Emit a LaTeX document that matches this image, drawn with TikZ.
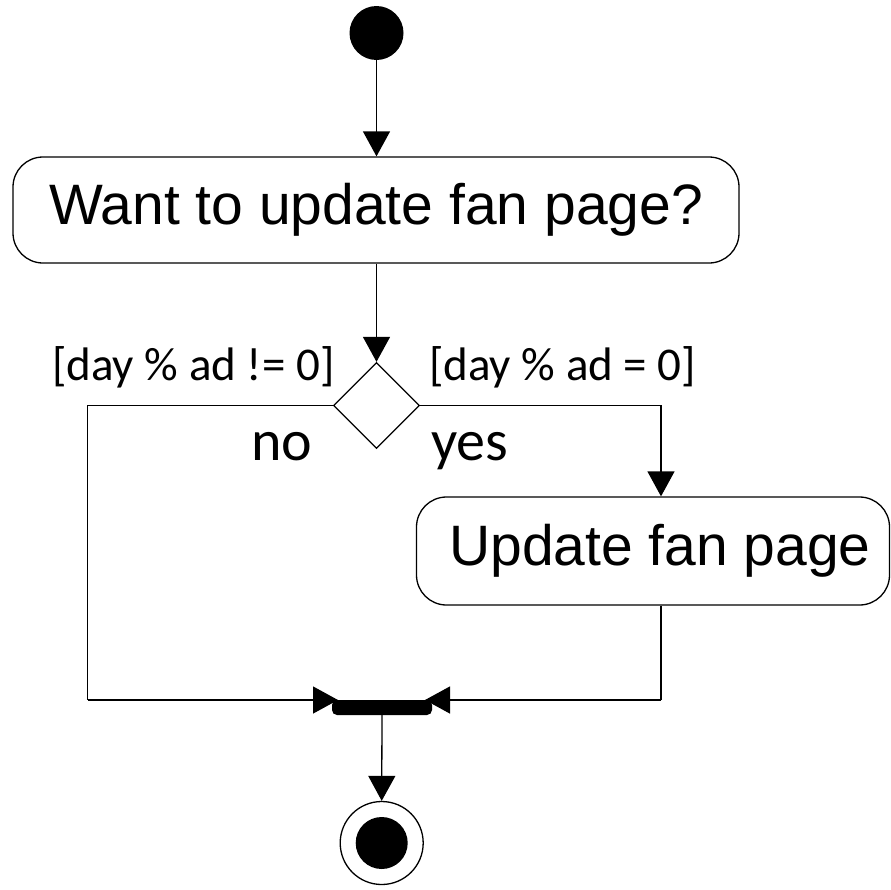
\documentclass[tikz,border=0pt]{standalone}
\usepackage{fontspec}
\setmainfont{Liberation Sans}
\newfontfamily\calibri{Carlito}
\usetikzlibrary{shapes.geometric,arrows.meta,calc}

\tikzset{
  flow/.style={line width=1.3pt, draw=black},
  arr/.style={flow, -{Triangle[width=27pt,length=25pt]}},
  action/.style={draw, line width=1.3pt, rounded corners=30pt, inner sep=0pt,
    font=\fontsize{57}{60}\selectfont},
  decision/.style={diamond, draw, line width=1.3pt, inner sep=0pt, aspect=1,
    minimum width=86pt, minimum height=86pt},
  guard/.style={inner sep=0pt, font=\calibri\fontsize{47}{50}\selectfont},
  branch/.style={inner sep=0pt, font=\calibri\fontsize{58}{60}\selectfont},
  joinbar/.style={fill=black, rounded corners=5pt, inner sep=0pt,
    minimum width=100pt, minimum height=15pt},
}

\begin{document}
\begin{tikzpicture}[x=1pt,y=-1pt]
  \useasboundingbox (0,0) rectangle (891,889);

  % initial node
  \node[circle, fill=black, inner sep=0pt, minimum size=54pt] (start) at (376.5,33) {};

  % first activity
  \node[action, minimum width=726pt, minimum height=106pt] (ask) at (376,210)
    {Want to update fan page?};

  % decision
  \node[decision] (dec) at (376.5,405.5) {};

  % second activity
  \node[action, minimum width=473pt, minimum height=108pt] (upd) at (653,551)
    {\hspace*{14pt}Update fan page};

  % join bar
  \node[joinbar] (join) at (382,707.5) {};

  % final node
  \node[circle, draw, line width=1.3pt, fill=white, inner sep=0pt, minimum size=83pt] (final) at (381.7,843) {};
  \fill (final.center) circle (26pt);

  % connector corner points
  \coordinate (lc) at (87.7,700);
  \coordinate (jl) at (338,700);
  \coordinate (jr) at (425,700);
  \coordinate (rc) at (661,700);

  % connectors
  \draw[arr] (start) -- (ask.north -| start);
  \draw[arr] (ask.south -| dec) -- (dec.north);
  \draw[flow] (dec.west) -- (dec.west -| lc) -- (lc);
  \draw[arr] (lc) -- (jl);
  \draw[arr] (dec.east) -| ([xshift=8pt]upd.north);
  \draw[flow] ([xshift=8pt]upd.south) -- (rc);
  \draw[arr] (rc) -- (jr);
  \draw[arr] (join.south) -- (final.north);

  % guards and branch labels
  \node[guard, anchor=base west] (gno) at (52,380) {[day \% ad != 0]};
  \node[guard, anchor=base west] (gyes) at (429,380) {[day \% ad = 0]};
  \node[branch, anchor=base west] (lno) at (251,460) {no};
  \node[branch, anchor=base west] (lyes) at (431,460) {yes};
\end{tikzpicture}
\end{document}
